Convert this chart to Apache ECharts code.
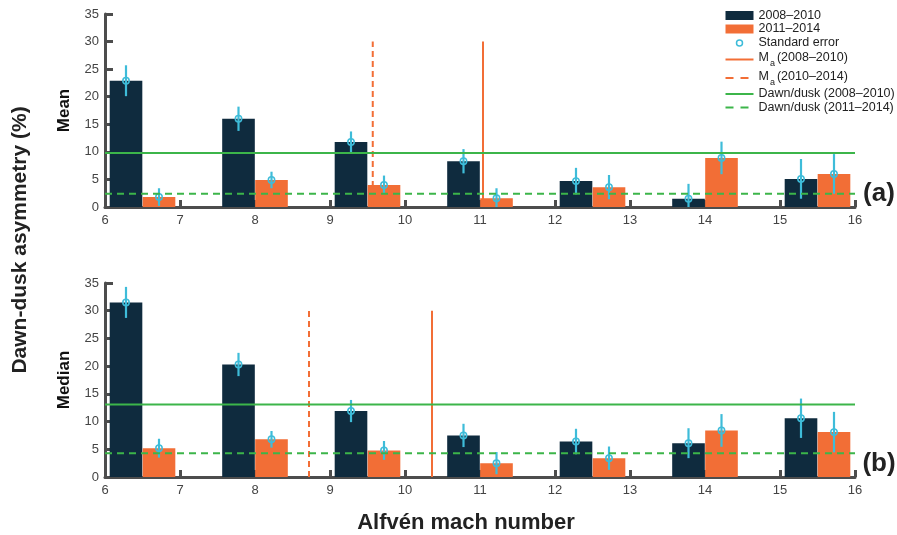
<!DOCTYPE html>
<html>
<head>
<meta charset="utf-8">
<script src="https://cdn.jsdelivr.net/npm/echarts@6/dist/echarts.min.js"></script>
<style>
  html, body { margin: 0; padding: 0; background: #fff; }
  #chart { width: 897px; height: 535px; }
</style>
</head>
<body>
<div id="chart"></div>
<script>
// bins of Alfven mach number (centre of each pair of bars)
var binCenters = [6.5, 8, 9.5, 11, 12.5, 14, 15.5];

// (a) mean asymmetry, %
var meanEarly = [22.9, 16.0, 11.8, 8.3, 4.7, 1.5, 5.1];
var meanEarlyErr = [2.8, 2.2, 1.9, 2.2, 2.4, 2.7, 3.6];
var meanLate = [1.8, 4.9, 4.0, 1.6, 3.6, 8.9, 6.0];
var meanLateErr = [1.6, 1.5, 1.7, 1.8, 2.2, 2.95, 3.6];

// (b) median asymmetry, %
var medianEarly = [31.5, 20.3, 11.9, 7.5, 6.4, 6.1, 10.6];
var medianEarlyErr = [2.8, 2.1, 2.0, 2.1, 2.3, 2.7, 3.55];
var medianLate = [5.2, 6.8, 4.8, 2.5, 3.4, 8.4, 8.1];
var medianLateErr = [1.7, 1.5, 1.7, 2.0, 2.1, 2.95, 3.65];

// overall dawn/dusk levels [2008-2010, 2011-2014]
var meanDawnDusk = [9.8, 2.4];
var medianDawnDusk = [13.1, 4.3];

// average Ma [2008-2010, 2010-2014]
var meanMa = [11.04, 9.57];
var medianMa = [10.36, 8.72];
var maLineTop = 30;

var xTicks = [6, 16];
var yRange = [0, 35];

var C_DARK = '#0f2b3e';
var C_ORANGE = '#f26e36';
var C_CYAN = '#3ebcd9';
var C_GREEN = '#3cb54a';
var C_AXIS = '#4d4d4d';

var barW = 0.435;
var pairOff = 0.22;

var NAME_E = '2008\u20132010';
var NAME_L = '2011\u20132014';
var NAME_SE = 'Standard error';
var NAME_MA1 = 'Ma (2008\u20132010)';
var NAME_MA2 = 'Ma (2010\u20132014)';
var NAME_DD1 = 'Dawn/dusk (2008\u20132010)';
var NAME_DD2 = 'Dawn/dusk (2011\u20132014)';

// legend icons: thin line / two dashes inside a 28x9 box
var ICON_SOLID = 'path://M0,0M28,9M0,3.5h28v2h-28z';
var ICON_DASH = 'path://M0,0M28,9M0,3.5h8v2h-8zM15,3.5h8v2h-8z';

var myChart = echarts.init(document.getElementById('chart'));

//柱
var barItem = function(color) {
	return function(params, api) {
		var x = api.value(0), y = api.value(1);
		var p0 = api.coord([x - barW / 2, y]);
		var p1 = api.coord([x + barW / 2, 0]);
		return {
			type: 'rect',
			shape: { x: p0[0], y: p0[1], width: p1[0] - p0[0], height: p1[1] - p0[1] },
			style: { fill: color }
		};
	};
};

//误差
var errItem = function(params, api) {
	var x = api.value(0), y = api.value(1), e = api.value(2);
	var top = api.coord([x, y + e]);
	var bot = api.coord([x, Math.max(0, y - e)]);
	var c = api.coord([x, y]);
	return {
		type: 'group',
		children: [
			{ type: 'line', shape: { x1: top[0], y1: top[1], x2: bot[0], y2: bot[1] },
			  style: { stroke: C_CYAN, lineWidth: 2.2 } },
			{ type: 'circle', shape: { cx: c[0], cy: c[1], r: 3.2 },
			  style: { stroke: C_CYAN, fill: 'none', lineWidth: 1.5 } }
		]
	};
};

var pairs = function(vals, off, errs) {
	return vals.map(function(v, i) {
		var row = [binCenters[i] + off, v];
		if (errs) row.push(errs[i]);
		return row;
	});
};

var panelSeries = function(idx, early, earlyErr, late, lateErr, dd, ma) {
	return [
		{ name: NAME_E, type: 'custom', xAxisIndex: idx, yAxisIndex: idx, z: 2,
		  itemStyle: { color: C_DARK }, renderItem: barItem(C_DARK), data: pairs(early, -pairOff) },
		{ name: NAME_L, type: 'custom', xAxisIndex: idx, yAxisIndex: idx, z: 2,
		  itemStyle: { color: C_ORANGE }, renderItem: barItem(C_ORANGE), data: pairs(late, pairOff) },
		{ name: NAME_SE, type: 'custom', xAxisIndex: idx, yAxisIndex: idx, z: 3,
		  itemStyle: { color: C_CYAN }, renderItem: errItem,
		  data: pairs(early, -pairOff, earlyErr).concat(pairs(late, pairOff, lateErr)) },
		{ name: NAME_MA1, type: 'line', xAxisIndex: idx, yAxisIndex: idx, z: 4, symbol: 'none',
		  itemStyle: { color: C_ORANGE }, lineStyle: { color: C_ORANGE, width: 2 },
		  data: [[ma[0], 0], [ma[0], maLineTop]] },
		{ name: NAME_MA2, type: 'line', xAxisIndex: idx, yAxisIndex: idx, z: 4, symbol: 'none',
		  itemStyle: { color: C_ORANGE }, lineStyle: { color: C_ORANGE, width: 2, type: [6, 4] },
		  data: [[ma[1], 0], [ma[1], maLineTop]] },
		{ name: NAME_DD1, type: 'line', xAxisIndex: idx, yAxisIndex: idx, z: 5, symbol: 'none',
		  itemStyle: { color: C_GREEN }, lineStyle: { color: C_GREEN, width: 2 },
		  data: [[xTicks[0], dd[0]], [xTicks[1], dd[0]]] },
		{ name: NAME_DD2, type: 'line', xAxisIndex: idx, yAxisIndex: idx, z: 5, symbol: 'none',
		  itemStyle: { color: C_GREEN }, lineStyle: { color: C_GREEN, width: 2, type: [7, 5] },
		  data: [[xTicks[0], dd[1]], [xTicks[1], dd[1]]] }
	];
};

var xAxisCfg = function(idx) {
	return {
		type: 'value', gridIndex: idx, min: xTicks[0], max: xTicks[1], interval: 1,
		axisLine: { lineStyle: { color: C_AXIS, width: 3 } },
		axisTick: { inside: true, length: 7, lineStyle: { color: C_AXIS, width: 3 } },
		axisLabel: { color: '#444', fontSize: 13, margin: 7, fontFamily: 'Liberation Sans' },
		splitLine: { show: false }
	};
};

var yAxisCfg = function(idx, name) {
	return {
		type: 'value', gridIndex: idx, min: yRange[0], max: yRange[1], interval: 5,
		axisLine: { show: true, lineStyle: { color: C_AXIS, width: 3 } },
		axisTick: { show: true, inside: true, length: 8, lineStyle: { color: C_AXIS, width: 3 } },
		axisLabel: { color: '#444', fontSize: 13, margin: 6, fontFamily: 'Liberation Sans' },
		splitLine: { show: false },
		name: name, nameLocation: 'middle', nameGap: 32,
		nameTextStyle: { color: '#111', fontSize: 17, fontWeight: 'bold', fontFamily: 'Liberation Sans' }
	};
};

var option = {
	animation: false,
	grid: [
		{ left: 105, right: 42, top: 14, height: 193 },
		{ left: 105, right: 42, top: 283, height: 194 }
	],
	xAxis: [xAxisCfg(0), xAxisCfg(1)],
	yAxis: [yAxisCfg(0, 'Mean'), yAxisCfg(1, 'Median')],
	legend: {
		orient: 'vertical', left: 723, top: 9, padding: 0,
		itemWidth: 28, itemHeight: 9, itemGap: 0.5,
		selectedMode: false,
		textStyle: {
			color: '#222', fontSize: 12.5, lineHeight: 13, fontFamily: 'Liberation Sans',
			rich: {
				m: { fontSize: 12.5, color: '#222', fontFamily: 'Liberation Sans', lineHeight: 18, verticalAlign: 'top', padding: [1, 0, 0, 0] },
				s: { fontSize: 9, color: '#222', fontFamily: 'Liberation Sans', lineHeight: 18, verticalAlign: 'bottom', padding: [0, 2, 0, 1] }
			}
		},
		formatter: function(name) {
			if (name.indexOf('Ma ') === 0) {
				return '{m|M}{s|a}{m|' + name.slice(3) + '}';
			}
			return name;
		},
		data: [
			{ name: NAME_E, icon: 'rect' },
			{ name: NAME_L, icon: 'rect' },
			{ name: NAME_SE, icon: 'path://M0,0M28,9M11,4.5a3,3 0 1,0 6,0a3,3 0 1,0 -6,0z',
			  itemStyle: { color: 'none', borderColor: C_CYAN, borderWidth: 1.5 } },
			{ name: NAME_MA1, icon: ICON_SOLID },
			{ name: NAME_MA2, icon: ICON_DASH },
			{ name: NAME_DD1, icon: ICON_SOLID },
			{ name: NAME_DD2, icon: ICON_DASH }
		]
	},
	graphic: [
		{ type: 'text', x: 20, y: 240, rotation: Math.PI / 2,
		  style: { text: 'Dawn-dusk asymmetry (%)', fill: '#222', font: 'bold 21px "Liberation Sans"',
		           textAlign: 'center', textVerticalAlign: 'middle' } },
		{ type: 'text', x: 466, y: 523,
		  style: { text: 'Alfv\u00e9n mach number', fill: '#222', font: 'bold 22px "Liberation Sans"',
		           textAlign: 'center', textVerticalAlign: 'middle' } },
		{ type: 'text', x: 879, y: 194,
		  style: { text: '(a)', fill: '#222', font: 'bold 26px "Liberation Sans"',
		           textAlign: 'center', textVerticalAlign: 'middle' } },
		{ type: 'text', x: 879, y: 464,
		  style: { text: '(b)', fill: '#222', font: 'bold 26px "Liberation Sans"',
		           textAlign: 'center', textVerticalAlign: 'middle' } }
	],
	series: panelSeries(0, meanEarly, meanEarlyErr, meanLate, meanLateErr, meanDawnDusk, meanMa)
		.concat(panelSeries(1, medianEarly, medianEarlyErr, medianLate, medianLateErr, medianDawnDusk, medianMa))
};

myChart.setOption(option);
</script>
</body>
</html>
